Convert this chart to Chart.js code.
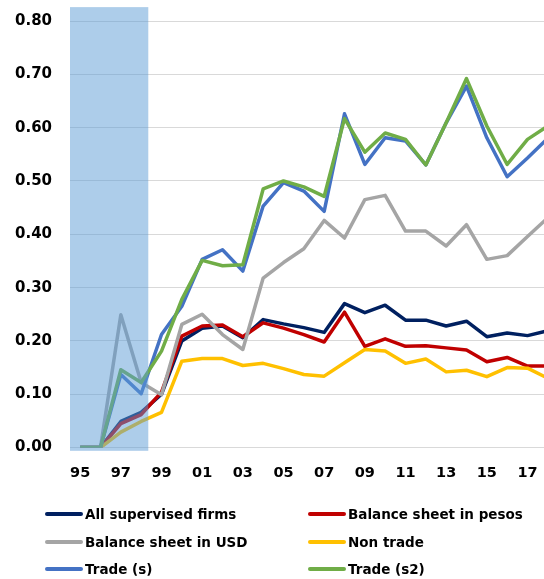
<!DOCTYPE html>
<html><head><meta charset="utf-8">
<script src="https://cdn.jsdelivr.net/npm/chart.js@4/dist/chart.umd.min.js"></script>
<style>
html,body{margin:0;padding:0;background:#fff;overflow:hidden;width:544px;height:579px;}
#wrap{position:absolute;left:0;top:0;width:560px;height:490px;}
#legend{position:absolute;left:0;top:0;width:544px;height:579px;font-family:"DejaVu Sans";font-weight:bold;font-size:13.5px;color:#000;pointer-events:none;}
.item{position:absolute;display:flex;align-items:center;white-space:nowrap;height:18px;}
.sw{width:38px;height:3.5px;border-radius:2px;margin-right:2px;}
</style></head><body>
<div id="wrap"><canvas id="c"></canvas></div>
<div id="legend"></div>
<script>
const years = ['95','96','97','98','99','00','01','02','03','04','05','06','07','08','09','10','11','12','13','14','15','16','17','18'];
const tickLabels = ['95','97','99','01','03','05','07','09','11','13','15','17'];
const yTicks = [0,0.1,0.2,0.3,0.4,0.5,0.6,0.7,0.8];

const allFirms = [0,0,0.049,0.066,0.100,0.200,0.224,0.228,0.206,0.240,0.232,0.225,0.216,0.270,0.253,0.267,0.239,0.239,0.228,0.237,0.208,0.215,0.210,0.219];
const bsPesos  = [0,0,0.045,0.062,0.104,0.209,0.228,0.230,0.208,0.234,0.224,0.212,0.198,0.254,0.190,0.204,0.190,0.191,0.187,0.183,0.161,0.169,0.153,0.153];
const bsUSD    = [0,0,0.249,0.122,0.099,0.231,0.250,0.212,0.184,0.318,0.347,0.373,0.426,0.393,0.465,0.473,0.406,0.406,0.378,0.418,0.353,0.360,0.396,0.431];
const nonTrade = [0,0,0.029,0.049,0.066,0.162,0.167,0.167,0.154,0.158,0.148,0.137,0.134,0.159,0.184,0.181,0.158,0.166,0.142,0.145,0.133,0.150,0.149,0.130];
const tradeS   = [0,0,0.137,0.101,0.212,0.265,0.353,0.371,0.331,0.453,0.497,0.481,0.443,0.626,0.531,0.581,0.575,0.530,0.609,0.678,0.581,0.508,0.543,0.580];
const tradeS2  = [0,0,0.146,0.122,0.181,0.278,0.351,0.341,0.343,0.485,0.500,0.489,0.471,0.617,0.554,0.590,0.578,0.530,0.609,0.692,0.603,0.531,0.578,0.603];

const seriesNames = ['All supervised firms','Balance sheet in pesos','Balance sheet in USD','Non trade','Trade (s)','Trade (s2)'];
const seriesData = [allFirms,bsPesos,bsUSD,nonTrade,tradeS,tradeS2];
const seriesColors = ['#002060','#c00000','#a5a5a5','#ffc000','#4472c4','#70ad47'];

const shadeFrom = '95', shadeTo = '98';

const datasets = seriesNames.map((n,i)=>({
  label:n, data:seriesData[i], borderColor:seriesColors[i], backgroundColor:seriesColors[i],
  borderWidth:3.5, pointRadius:0, tension:0, fill:false, borderJoinStyle:'round', order:6-i
}));

const shadePlugin = {
  id:'shade',
  afterDatasetsDraw(chart){
    const {ctx, chartArea, scales:{x,y}} = chart;
    const w = x.getPixelForValue(1) - x.getPixelForValue(0);
    const left = chartArea.left;
    const right = x.getPixelForValue(years.indexOf(shadeTo)) + 0.35*w;
    const top = y.getPixelForValue(0.826);
    const bottom = y.getPixelForValue(-0.006);
    ctx.save();
    ctx.fillStyle = 'rgba(91,155,213,0.5)';
    ctx.fillRect(left, top, right-left, bottom-top);
    ctx.restore();
  }
};

new Chart(document.getElementById('c'), {
  type:'line',
  data:{labels:years, datasets},
  options:{
    responsive:true, maintainAspectRatio:false, animation:false,
    layout:{padding:{top:21,right:2,bottom:8,left:0}},
    plugins:{legend:{display:false}, tooltip:{enabled:false}},
    scales:{
      x:{
        offset:true,
        grid:{display:true, color:'rgba(0,0,0,0)', drawTicks:true, tickLength:17, tickColor:'rgba(0,0,0,0)'},
        border:{display:false},
        ticks:{autoSkip:false, maxRotation:0, padding:0, color:'#000',
          font:{family:'DejaVu Sans', weight:'bold', size:14.5},
          callback:(v,i)=> tickLabels.includes(years[i]) ? years[i] : ''}
      },
      y:{
        min:0, max:0.8,
        afterFit(s){ s.width = 70; },
        afterBuildTicks(s){ s.ticks = yTicks.map(v=>({value:v})); },
        grid:{color:'#d9d9d9', lineWidth:1, drawTicks:true, tickLength:18, tickColor:'rgba(0,0,0,0)'},
        border:{display:false},
        ticks:{padding:0, color:'#000',
          font:{family:'DejaVu Sans', weight:'bold', size:15},
          callback:v=>Number(v).toFixed(2)}
      }
    }
  },
  plugins:[shadePlugin]
});

const legend = document.getElementById('legend');
const rowY = [514,542,569];
const colX = [45,308];
datasets.forEach((d,i)=>{
  const it = document.createElement('div');
  it.className='item';
  it.style.left = colX[i%2]+'px';
  it.style.top = (rowY[Math.floor(i/2)]-9)+'px';
  const sw = document.createElement('span'); sw.className='sw'; sw.style.background=d.borderColor;
  const tx = document.createElement('span'); tx.textContent=d.label;
  it.appendChild(sw); it.appendChild(tx);
  legend.appendChild(it);
});
</script>
</body></html>
